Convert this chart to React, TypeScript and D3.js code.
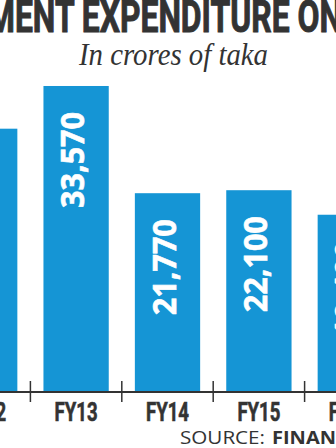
import React from "react";
import * as d3 from "d3";

const categories = ["FY12", "FY13", "FY14", "FY15", "FY16"];
const values = [28870, 33570, 21770, 22100, 19400];
const titleText = "MENT EXPENDITURE ON";
const subtitleText = "In crores of taka";
const sourceLabel = "SOURCE:";
const sourceName = "FINAN";

const W = 336;
const H = 448;
const BLUE = "#1595d5";
const DARK = "#333333";

export default function App() {
  const x = d3
    .scaleBand<string>()
    .domain(categories)
    .range([-61, 396])
    .paddingInner(0.2857)
    .paddingOuter(0.1429);
  const baseY = 391;
  const y = d3.scaleLinear().domain([0, 35000]).range([baseY, baseY - 318]);
  const fmt = d3.format(",");
  const bw = x.bandwidth();
  const gap = x.step() - bw;

  return (
    <svg
      width={W}
      height={H}
      style={{ position: "absolute", left: 0, top: 0, background: "#fff" }}
    >
      <rect x={0} y={0} width={W} height={H} fill="#fff" />
      <text
        x={-13}
        y={32}
        fontFamily="Roboto, 'Open Sans', sans-serif"
        fontWeight={700}
        fontSize={44}
        fill={DARK}
        stroke={DARK}
        strokeWidth={1}
        textLength={355}
        lengthAdjust="spacingAndGlyphs"
      >
        {titleText}
      </text>
      <text
        x={79}
        y={65}
        fontFamily="'Liberation Serif', 'DejaVu Serif', serif"
        fontStyle="italic"
        fontSize={31}
        fill={DARK}
        textLength={189}
        lengthAdjust="spacingAndGlyphs"
      >
        {subtitleText}
      </text>

      {categories.map((c, i) => {
        const x0 = x(c) as number;
        const top = y(values[i]);
        const cx = x0 + bw / 2;
        return (
          <g key={c}>
            <rect x={x0} y={top} width={bw} height={baseY - top} fill={BLUE} />
            <text
              transform={`translate(${cx + 8},${top + 26}) rotate(-90)`}
              textAnchor="end"
              fontFamily="'Open Sans', Roboto, sans-serif"
              fontWeight={700}
              fontSize={32}
              fill="#fff"
              stroke="#fff"
              strokeWidth={0.6}
              textLength={96}
              lengthAdjust="spacingAndGlyphs"
            >
              {fmt(values[i])}
            </text>
            <text
              x={cx}
              y={421}
              textAnchor="middle"
              fontFamily="Roboto, 'Open Sans', sans-serif"
              fontWeight={700}
              fontSize={25}
              fill={DARK}
              stroke={DARK}
              strokeWidth={0.6}
              textLength={43}
              lengthAdjust="spacingAndGlyphs"
            >
              {c}
            </text>
          </g>
        );
      })}

      <line x1={0} x2={W} y1={baseY + 1} y2={baseY + 1} stroke={DARK} strokeWidth={2} />
      {categories.slice(1).map((c) => {
        const tx = (x(c) as number) - gap / 2;
        return (
          <line key={"t" + c} x1={tx} x2={tx} y1={381} y2={402} stroke={DARK} strokeWidth={1.5} />
        );
      })}

      <text
        x={180}
        y={444}
        fontFamily="'Open Sans', Roboto, sans-serif"
        fontSize={18.5}
        fill={DARK}
        textLength={85}
        lengthAdjust="spacingAndGlyphs"
      >
        {sourceLabel}
      </text>
      <text
        x={272}
        y={444}
        fontFamily="'Open Sans', Roboto, sans-serif"
        fontWeight={700}
        fontSize={18.5}
        fill={DARK}
        textLength={64}
        lengthAdjust="spacingAndGlyphs"
      >
        {sourceName}
      </text>
    </svg>
  );
}
